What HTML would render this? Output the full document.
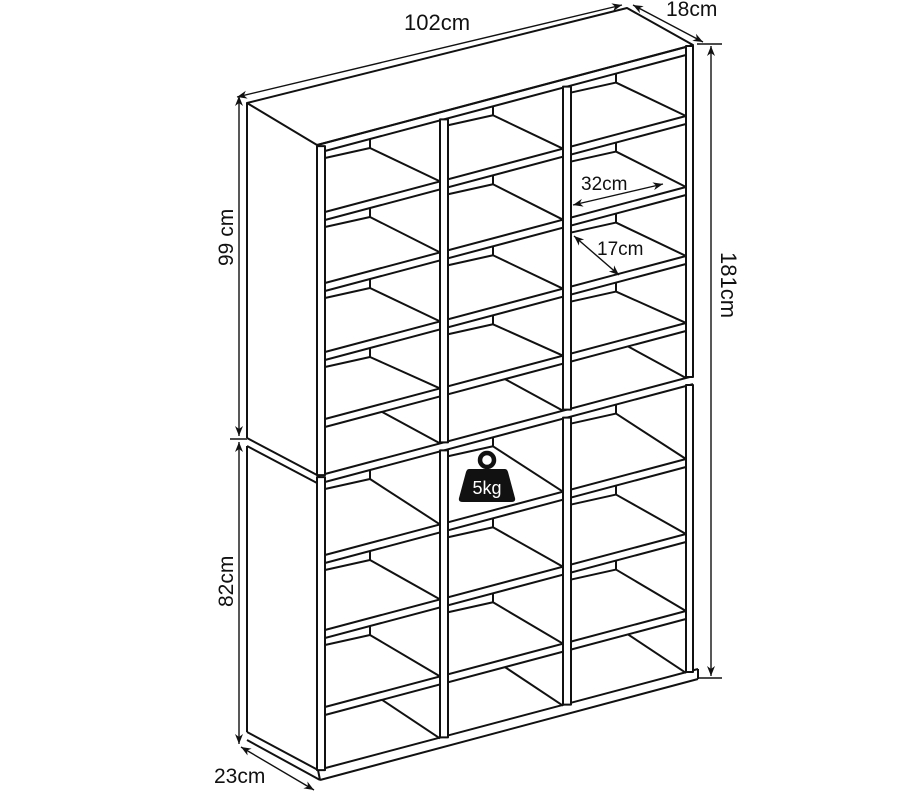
<!DOCTYPE html>
<html><head><meta charset="utf-8"><style>
html,body{margin:0;padding:0;background:#fff;}
svg{display:block;}
text{font-family:"Liberation Sans",sans-serif;fill:#111;}
</style></head><body>
<svg id="s" width="906" height="793" viewBox="0 0 906 793" xmlns="http://www.w3.org/2000/svg">
<defs>
<marker id="ar" viewBox="0 0 10 10" refX="10" refY="5" markerWidth="10" markerHeight="10" orient="auto-start-reverse" markerUnits="userSpaceOnUse">
<path d="M0,1 L10,5 L0,9 L3,5 Z" fill="#111"/>
</marker>
</defs>
<rect width="906" height="793" fill="#fff"/>
<g id="g" fill="none" stroke="#111" stroke-width="2" stroke-linejoin="round"></g>
<g id="dims" stroke="#111" stroke-width="1.4" fill="none">
<line x1="237" y1="97" x2="622" y2="5" marker-start="url(#ar)" marker-end="url(#ar)"/>
<line x1="633" y1="5" x2="703" y2="42" marker-start="url(#ar)" marker-end="url(#ar)"/>
<line x1="697" y1="44" x2="722" y2="44"/>
<line x1="698" y1="678" x2="722" y2="678"/>
<line x1="711" y1="46" x2="711" y2="676" marker-start="url(#ar)" marker-end="url(#ar)"/>
<line x1="239" y1="96" x2="239" y2="436" marker-start="url(#ar)" marker-end="url(#ar)"/>
<line x1="230" y1="439" x2="247" y2="439"/>
<line x1="239" y1="442" x2="239" y2="744" marker-start="url(#ar)" marker-end="url(#ar)"/>
<line x1="241" y1="747" x2="314" y2="790" marker-start="url(#ar)" marker-end="url(#ar)"/>
<line x1="573" y1="205" x2="663" y2="184" marker-start="url(#ar)" marker-end="url(#ar)"/>
<line x1="574" y1="236" x2="619" y2="275" marker-start="url(#ar)" marker-end="url(#ar)"/>
</g>
<g font-size="21">
<text x="404" y="30" font-size="22">102cm</text>
<text x="666" y="16">18cm</text>
<text x="581" y="190" font-size="19">32cm</text>
<text x="597" y="255" font-size="19">17cm</text>
<text x="214" y="783">23cm</text>
<text transform="translate(721,252) rotate(90)" font-size="22">181cm</text>
<text transform="translate(233,266) rotate(-90)">99 cm</text>
<text transform="translate(233,607) rotate(-90)">82cm</text>
</g>
<g>
<circle cx="487" cy="460" r="7" fill="none" stroke="#111" stroke-width="4.5"/>
<path d="M469,469 L505,469 Q507,469 508,472 L515,498 Q516,502 511,502 L463,502 Q458,502 459,498 L466,472 Q467,469 469,469 Z" fill="#111"/>
<text x="487" y="494" font-size="18" text-anchor="middle" style="fill:#fff">5kg</text>
</g>
</svg>
<script>
(function(){
var g=document.getElementById('g');var NS='http://www.w3.org/2000/svg';
var k=0.266;
function f(x,y0){return y0-k*(x-325);}
function el(n,a){var e=document.createElementNS(NS,n);for(var i in a)e.setAttribute(i,a[i]);g.appendChild(e);return e;}
function L(x1,y1,x2,y2){el('line',{x1:x1,y1:y1,x2:x2,y2:y2});}
function P(pts,fill){el('polygon',{points:pts.map(function(p){return p.join(',')}).join(' '),fill:fill||'none'});}
P([[247,103],[627,8],[693,45],[317,145]],'#fff');
L(247,103,247,438);
L(247,438,317,475);L(247,446,317,483);
L(247,446,247,732);
L(247,732,318,770);L(247,740,320,780);L(318,770,320,780);
L(318,770,698,669);L(320,780,698,679);L(698,669,698,679);
var bands=[143,212,283,352,419,474,555,630,707];
bands.forEach(function(b){L(317,f(317,b),693,f(693,b));L(317,f(317,b+8),693,f(693,b+8));});
var rows=[[151,212,0],[220,283,0],[291,352,0],[360,419,0],[427,474,1],[482,555,0],[563,630,0],[638,707,0],[715,769,1]];
var cols=[[325,440],[448,563],[571,686]];
rows.forEach(function(r){cols.forEach(function(c){
 var xL=c[0],xR=c[1],Lw=r[0],nx=r[1];
 if(!r[2]){
  var y0=f(xL,Lw);
  L(xL,y0+7,xL+45,y0-3);
  L(xL+45,f(xL+45,Lw),xL+45,y0-3);
  L(xL+45,y0-3,xR,f(xR,nx));
 }else{
  L(xL+57,f(xL+57,Lw),xR,f(xR,nx));
 }
});});
var px=[[317,325],[440,448],[563,571],[686,693]];
px.forEach(function(p,i){
 var m=(p[0]+p[1])/2;
 var t=i==0?f(m,145):(i==3?f(m,143):f(m,151));
 var b=f(m,474);
 el('rect',{x:p[0],y:t,width:p[1]-p[0],height:b-t,fill:'#fff'});
 var t2=f(m,482),b2=f(m,769);
 if(i==0)t2=f(m,476);
 el('rect',{x:p[0],y:t2,width:p[1]-p[0],height:b2-t2,fill:'#fff'});
});
})();
</script>
</body></html>
